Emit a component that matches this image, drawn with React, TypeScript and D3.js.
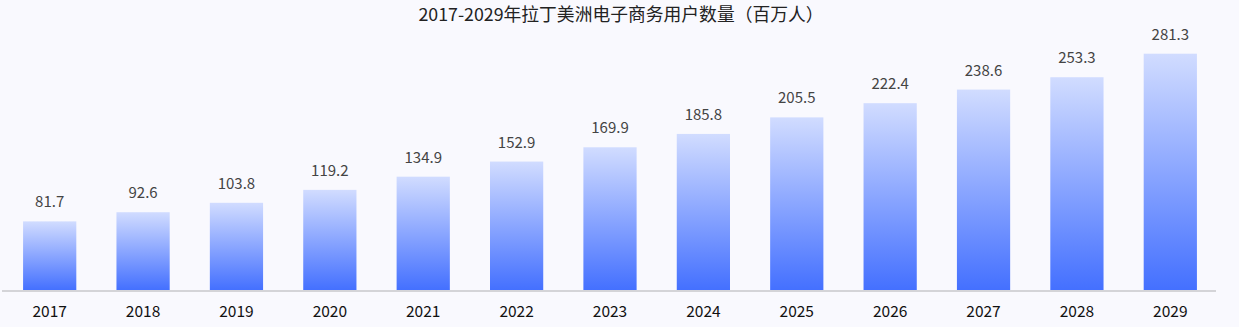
import * as d3 from 'd3';
import React from 'react';

const years = ['2017', '2018', '2019', '2020', '2021', '2022', '2023', '2024', '2025', '2026', '2027', '2028', '2029'];
const users = [81.7, 92.6, 103.8, 119.2, 134.9, 152.9, 169.9, 185.8, 205.5, 222.4, 238.6, 253.3, 281.3];
const title = '2017-2029年拉丁美洲电子商务用户数量（百万人）';

const width = 1239;
const height = 327;
const font = '"Noto Sans CJK SC", "Noto Sans", sans-serif';

export default function App() {
  const x = d3.scaleBand<string>()
    .domain(years)
    .range([3, 1217])
    .paddingInner(0.43)
    .paddingOuter(0.215);

  const y = d3.scaleLinear()
    .domain([0, 300])
    .range([290, 38]);

  return (
    <svg width={width} height={height} style={{ position: 'absolute', left: 0, top: 0, background: '#f9f9fe' }}>
      <defs>
        <linearGradient id="barFill" x1="0" y1="0" x2="0" y2="1">
          <stop offset="0%" stopColor="#d1dcff" />
          <stop offset="100%" stopColor="#4470ff" />
        </linearGradient>
      </defs>
      <rect width={width} height={height} fill="#f9f9fe" />
      <text x={621} y={21} textAnchor="middle" fontFamily={font} fontSize={17.8} fill="#222">{title}</text>

      {years.map((yr, i) => {
        const v = users[i];
        const bx = x(yr)!;
        const bw = x.bandwidth();
        return (
          <g key={yr}>
            <rect x={bx} y={y(v)} width={bw} height={y(0) - y(v)} fill="url(#barFill)" />
            <text x={bx + bw / 2} y={y(v) - 14} textAnchor="middle" fontFamily={font} fontSize={15} fill="#444">
              {v.toFixed(1)}
            </text>
            <text x={bx + bw / 2} y={317} textAnchor="middle" fontFamily={font} fontSize={15.5} fill="#111">
              {yr}
            </text>
          </g>
        );
      })}

      <line x1={2} x2={1216} y1={291} y2={291} stroke="#d4d4d8" strokeWidth={2} />
    </svg>
  );
}
